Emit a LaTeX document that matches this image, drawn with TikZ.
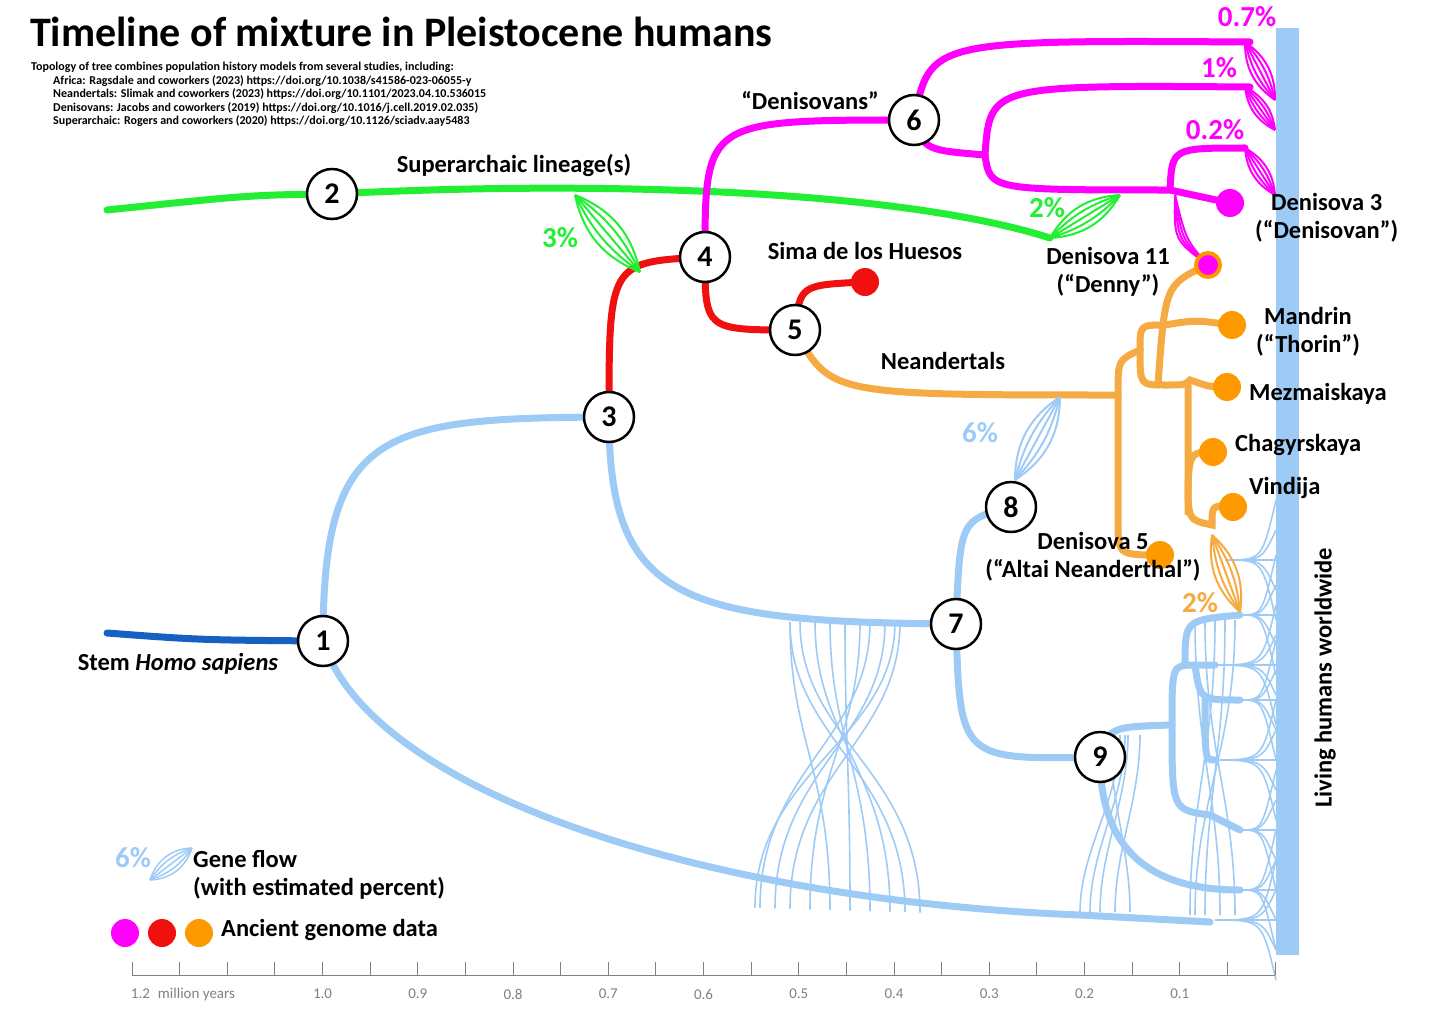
\documentclass[tikz,border=0pt]{standalone}
\usepackage{fontspec}
\setmainfont{Carlito}
\usetikzlibrary{calc}
\definecolor{lb}{HTML}{9ECBF5}
\definecolor{db}{HTML}{1560C0}
\definecolor{gr}{HTML}{22EE33}
\definecolor{mg}{HTML}{FF00FF}
\definecolor{rd}{HTML}{F01010}
\definecolor{og}{HTML}{F5AA42}
\definecolor{od}{HTML}{FF9900}
\begin{document}
\begin{tikzpicture}[x=1pt,y=-1pt,
  num/.style={circle,draw=black,line width=2.5pt,fill=white,minimum size=50pt,inner sep=0pt,font=\fontsize{30}{30}\selectfont\bfseries},
  lbl/.style={font=\fontsize{24.5}{28}\selectfont\bfseries,align=center,inner sep=1pt},
  pct/.style={font=\fontsize{29}{30}\selectfont\bfseries},
  br/.style={line width=7pt,line cap=round},
  thinb/.style={line width=1.6pt,lb},
  dot/.style={circle,minimum size=28pt,inner sep=0pt},
  tick/.style={font=\fontsize{15}{16}\selectfont,text=gray}]
\useasboundingbox (0,0) rectangle (1456,1014);
% bar
\fill[lb] (1276,28) rectangle (1299,955);
\node[lbl,rotate=90] (liv) at (1325,678) {Living humans worldwide};
% coordinates
\coordinate (n1) at (323,641);
\coordinate (n2) at (332,194);
\coordinate (n3) at (609,417);
\coordinate (n4) at (705,257);
\coordinate (n5) at (795,330);
\coordinate (n6) at (914,120);
\coordinate (n7) at (956,624);
\coordinate (n8) at (1011,507);
\coordinate (n9) at (1100,757);
% African tangle thin lines
\foreach \a/\b in {790/905,800/920,815/890,830/870,845/850,870/760,885/775,895/755,900/790,860/810,790/830}
  \draw[thinb] (\a,622) .. controls (\a,740) and (\b,770) .. (\b,885+\b*0.03);
\foreach \a/\b in {1120/1080,1128/1100,1140/1115,1110/1130,1125/1090}
  \draw[thinb] (\a,735) .. controls (\a,800) and (\b,850) .. (\b,912);
\foreach \a/\b in {1195/1220,1205/1235,1215/1190,1225/1205,1235/1195}
  \draw[thinb] (\a,620) .. controls (\a,750) and (\b,800) .. (\b,915);
% right fans
\foreach \sx/\sy in {1240/615,1215/665,1240/700,1215/760,1240/830,1240/890,1215/920,1225/560}
  \foreach \d in {-60,-30,0,30,60}
    \draw[thinb] (\sx,\sy) .. controls (1262,\sy) .. (1276,\sy+\d);
% light blue main branches
\draw[br,lb] (n1) .. controls (323,430) and (380,418) .. (n3);
\draw[br,lb] (n1) .. controls (370,790) and (700,900) .. (1080,915) -- (1210,922);
\draw[br,lb] (n3) .. controls (609,600) and (680,622) .. (n7);
\draw[br,lb] (n7) .. controls (960,520) .. (n8);
\draw[br,lb] (n7) .. controls (960,760) .. (n9);
\draw[br,lb] (n9) .. controls (1110,727) .. (1170,725);
\draw[br,lb] (n9) .. controls (1100,850) and (1150,890) .. (1240,890);
\draw[br,lb] (1172,725) .. controls (1172,665) .. (1195,665) -- (1215,665);
\draw[br,lb] (1185,665) .. controls (1185,620) .. (1240,615);
\draw[br,lb] (1195,665) .. controls (1200,700) .. (1240,700);
\draw[br,lb] (1172,725) .. controls (1172,810) .. (1210,815) -- (1240,830);
\draw[br,lb] (1205,700) .. controls (1205,760) .. (1215,760);
% dark stem
\draw[br,db] (107,633) .. controls (200,640) .. (n1);
% green
\draw[br,gr] (107,210) .. controls (250,195) .. (n2) .. controls (600,180) and (900,190) .. (1050,238);
% red
\draw[br,rd] (n3) .. controls (609,262) .. (n4);
\draw[br,rd] (n4) .. controls (705,330) .. (n5);
\draw[br,rd] (n5) .. controls (800,285) .. (865,282);
% magenta
\draw[br,mg] (n4) .. controls (705,120) .. (n6);
\draw[br,mg] (n6) .. controls (930,40) .. (1250,42);
\draw[br,mg] (n6) .. controls (925,150) .. (985,155);
\draw[br,mg] (985,155) .. controls (990,85) .. (1250,87);
\draw[br,mg] (985,155) .. controls (990,190) .. (1170,190) -- (1230,203);
\draw[br,mg] (1170,190) .. controls (1172,148) .. (1245,148);
\foreach \o in {-6,-2,2,6}
  \draw[line width=2pt,mg] (1175,195) .. controls (1180+\o,240) .. (1208,265);
% orange
\draw[br,og] (n5) .. controls (830,395) .. (1118,395);
\draw[br,og] (1118,395) .. controls (1118,360) .. (1140,350);
\draw[br,og] (1118,395) -- (1118,520) .. controls (1118,555) .. (1160,555);
\draw[br,og] (1140,350) .. controls (1140,325) .. (1165,325) .. controls (1195,320) .. (1232,325);
\draw[br,og] (1140,350) .. controls (1140,385) .. (1165,385);
\draw[br,og] (1158,385) .. controls (1165,285) .. (1207,265);
\draw[br,og] (1165,385) .. controls (1185,385) .. (1190,380) .. controls (1210,387) .. (1227,387);
\draw[br,og] (1188,385) -- (1188,515) .. controls (1188,452) .. (1213,452);
\draw[br,og] (1188,480) .. controls (1188,520) .. (1212,525) .. controls (1212,505) .. (1233,507);
% gene flows
\foreach \b in {-28,-14,0,14,28} {
  \draw[line width=2pt,gr] (575,195) to[bend left=\b] (640,272);
  \draw[line width=2pt,gr] (1120,195) to[bend left=\b] (1050,238);
  \draw[line width=2pt,mg] (1245,42) to[bend left=\b] (1275,100);
  \draw[line width=2pt,mg] (1245,87) to[bend left=\b] (1275,130);
  \draw[line width=2pt,mg] (1245,148) to[bend left=\b] (1275,195);
  \draw[line width=2pt,lb] (1060,397) to[bend left=\b] (1015,480);
  \draw[line width=2pt,og] (1212,535) to[bend left=\b] (1240,612);
}
% dots
\node[dot,fill=rd] (sima) at (865,282) {};
\node[dot,fill=mg] (d3) at (1230,203) {};
\node[dot,fill=mg,draw=od,line width=4pt,minimum size=24pt] (d11) at (1208,265) {};
\node[dot,fill=od] (mand) at (1232,325) {};
\node[dot,fill=od] (mez) at (1227,387) {};
\node[dot,fill=od] (cha) at (1213,452) {};
\node[dot,fill=od] (vin) at (1233,507) {};
\node[dot,fill=od] (d5) at (1160,555) {};
% numbered nodes
\foreach \i in {1,...,9} \node[num] (c\i) at (n\i) {\i};
% texts
\node[anchor=west,font=\fontsize{42}{44}\selectfont\bfseries,inner sep=0pt] (title) at (30,32) {Timeline of mixture in Pleistocene humans};
\node[anchor=north west,align=left,font=\fontsize{12}{13.5}\selectfont\bfseries,inner sep=0pt] (refs) at (31,62) {Topology of tree combines population history models from several studies, including:\\
\hspace*{22pt}Africa: Ragsdale and coworkers (2023) https://doi.org/10.1038/s41586-023-06055-y\\
\hspace*{22pt}Neandertals: Slimak and coworkers (2023) https://doi.org/10.1101/2023.04.10.536015\\
\hspace*{22pt}Denisovans: Jacobs and coworkers (2019) https://doi.org/10.1016/j.cell.2019.02.035)\\
\hspace*{22pt}Superarchaic: Rogers and coworkers (2020) https://doi.org/10.1126/sciadv.aay5483};
\node[lbl] (sup) at (514,165) {Superarchaic lineage(s)};
\node[pct,text=gr] (p3) at (560,238) {3\%};
\node[pct,text=gr] (p2g) at (1047,208) {2\%};
\node[lbl] (den) at (810,101) {“Denisovans”};
\node[pct,text=mg] (p07) at (1247,17) {0.7\%};
\node[pct,text=mg] (p1) at (1219,68) {1\%};
\node[pct,text=mg] (p02) at (1215,130) {0.2\%};
\node[lbl,anchor=west] (d3t) at (1254,218) {Denisova 3\\(“Denisovan”)};
\node[lbl] (d11t) at (1108,272) {Denisova 11\\(“Denny”)};
\node[lbl] (simat) at (865,251) {Sima de los Huesos};
\node[lbl] (neat) at (943,361) {Neandertals};
\node[lbl] (mandt) at (1308,332) {Mandrin\\(“Thorin”)};
\node[lbl,anchor=west] (mezt) at (1248,394) {Mezmaiskaya};
\node[lbl,anchor=west] (chat) at (1234,445) {Chagyrskaya};
\node[lbl,anchor=west] (vint) at (1248,488) {Vindija};
\node[pct,text=lb] (p6) at (980,433) {6\%};
\node[pct,text=og] (p2o) at (1200,603) {2\%};
\node[lbl] (d5t) at (1093,557) {Denisova 5\\(“Altai Neanderthal”)};
\node[lbl] (stem) at (178,664) {Stem \textit{Homo sapiens}};
% legend
\node[pct,text=lb] (lp) at (133,858) {6\%};
\foreach \b in {-35,-18,0,18,35} \draw[line width=1.5pt,lb] (150,880) to[bend left=\b] (192,848);
\node[lbl,anchor=west,align=left] (lgf) at (192,875) {Gene flow\\(with estimated percent)};
\node[dot,fill=mg] (l1) at (125,933) {};
\node[dot,fill=rd] (l2) at (162,933) {};
\node[dot,fill=od] (l3) at (199,933) {};
\node[lbl,anchor=west] (lad) at (220,930) {Ancient genome data};
% axis
\coordinate (a0) at (132,975);
\coordinate (a1) at (1275,975);
\draw[gray,line width=1pt] (a0) -- (a1);
\foreach \k in {0,...,24} \draw[gray,line width=1pt] (132+\k*47.625,975) -- (132+\k*47.625,962);
\node[tick] (t12) at (183,994) {1.2\hspace{8pt}million years};
\foreach \v/\k in {1.0/4,0.9/6,0.8/8,0.7/10,0.6/12,0.5/14,0.4/16,0.3/18,0.2/20,0.1/22}
  \node[tick] at (132+\k*47.625,994) {\v};
\end{tikzpicture}
\end{document}
